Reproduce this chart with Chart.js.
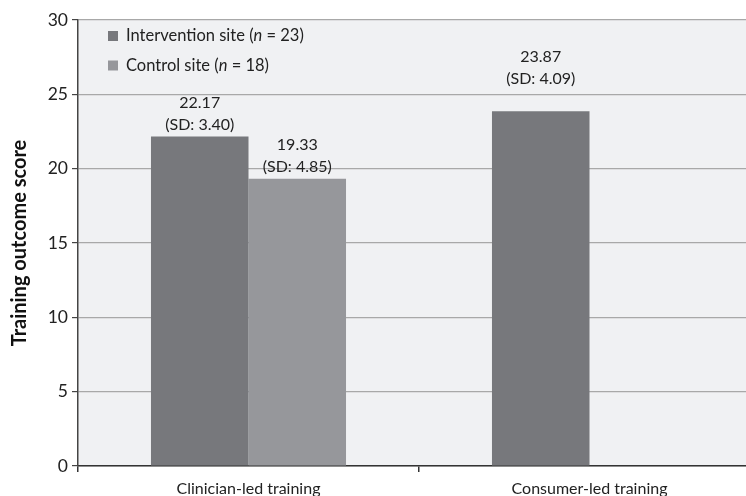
<!DOCTYPE html>
<html><head><meta charset="utf-8">
<script src="https://cdn.jsdelivr.net/npm/chart.js@4"></script>
<style>html,body{margin:0;padding:0;overflow:hidden;background:#fff}#wrap{width:760px;height:496px}</style>
</head><body><div id="wrap"><canvas id="c" width="760" height="496"></canvas></div>
<script>
const categories = ["Clinician-led training", "Consumer-led training"];
const seriesNames = ["Intervention site", "Control site"];
const seriesN = [23, 18];
const interventionMeans = [22.17, 23.87];
const controlMeans = [19.33, null];
const interventionSD = ["3.40", "4.09"];
const controlSD = ["4.85", null];
const yTicks = [0, 5, 10, 15, 20, 25, 30];
const colors = ["#77787c", "#96979b"];
const FONT = "Lato, 'Open Sans', sans-serif";
// extra lift of a data label above its bar (label placement as in the source figure)
const labelLift = [[0, 20], [0, 0]];

const bgPlugin = {
  id: 'bg',
  beforeDraw(chart) {
    const {ctx, chartArea: a} = chart;
    ctx.save(); ctx.fillStyle = '#f0f1f3';
    ctx.fillRect(a.left, a.top, a.right - a.left, a.bottom - a.top);
    ctx.restore();
  }
};
const labelPlugin = {
  id: 'labels',
  afterDatasetsDraw(chart) {
    const ctx = chart.ctx;
    const sds = [interventionSD, controlSD];
    ctx.save();
    ctx.font = "16px " + FONT; ctx.fillStyle = '#222'; ctx.textAlign = 'center'; ctx.textBaseline = 'middle';
    chart.data.datasets.forEach((ds, di) => {
      chart.getDatasetMeta(di).data.forEach((bar, i) => {
        const v = ds.data[i];
        if (v === null || v === undefined) return;
        const lift = labelLift[di][i];
        ctx.fillText(v.toFixed(2), bar.x, bar.y - 34 - lift);
        ctx.fillText("(SD: " + sds[di][i] + ")", bar.x, bar.y - 12 - lift);
      });
    });
    ctx.restore();
  }
};
const legendPlugin = {
  id: 'customLegend',
  afterDraw(chart) {
    const ctx = chart.ctx; const a = chart.chartArea;
    ctx.save(); ctx.textBaseline = 'middle';
    seriesNames.forEach((name, i) => {
      const y = a.top + 16 + i * 29.5;
      const x = a.left + 30;
      ctx.fillStyle = colors[i];
      ctx.fillRect(x, y - 5, 10, 10);
      ctx.fillStyle = '#222';
      let tx = x + 18;
      const parts = [[name + " (", "normal"], ["n", "italic"], [" = " + seriesN[i] + ")", "normal"]];
      parts.forEach(([t, st]) => {
        ctx.font = (st === 'italic' ? 'italic ' : '') + "16.5px " + FONT;
        ctx.fillText(t, tx, y);
        tx += ctx.measureText(t).width;
      });
    });
    ctx.restore();
  }
};

new Chart(document.getElementById('c'), {
  type: 'bar',
  data: {
    labels: categories,
    datasets: [
      {label: seriesNames[0], data: interventionMeans, backgroundColor: colors[0], borderWidth: 0},
      {label: seriesNames[1], data: controlMeans, backgroundColor: colors[1], borderWidth: 0}
    ]
  },
  options: {
    responsive: false, animation: false,
    layout: {padding: {top: 20, right: 0, left: 0, bottom: 0}},
    datasets: {bar: {categoryPercentage: 0.572, barPercentage: 1}},
    plugins: {legend: {display: false}, tooltip: {enabled: false}},
    scales: {
      x: {
        grid: {offset: true, drawOnChartArea: false, drawTicks: true, tickLength: 6, color: '#333', lineWidth: 1.5},
        border: {color: '#333', width: 1.5},
        ticks: {font: {family: FONT, size: 16}, color: '#222', padding: 7},
        afterFit(s) { s.height = 30; }
      },
      y: {
        min: 0, max: 30,
        afterBuildTicks(s) { s.ticks = yTicks.map(v => ({value: v})); },
        grid: {color: '#a8a8a8', lineWidth: 1.2, tickLength: 6, tickColor: '#444', drawTicks: true},
        border: {color: '#444', width: 1.5},
        ticks: {font: {family: FONT, size: 17.5}, color: '#222', padding: 4},
        title: {display: true, text: 'Training outcome score', font: {family: FONT, size: 20, weight: 'bold'}, color: '#111', padding: {top: 8, bottom: 0}},
        afterFit(s) { s.width = 78; }
      }
    }
  },
  plugins: [bgPlugin, labelPlugin, legendPlugin]
});
</script></body></html>
